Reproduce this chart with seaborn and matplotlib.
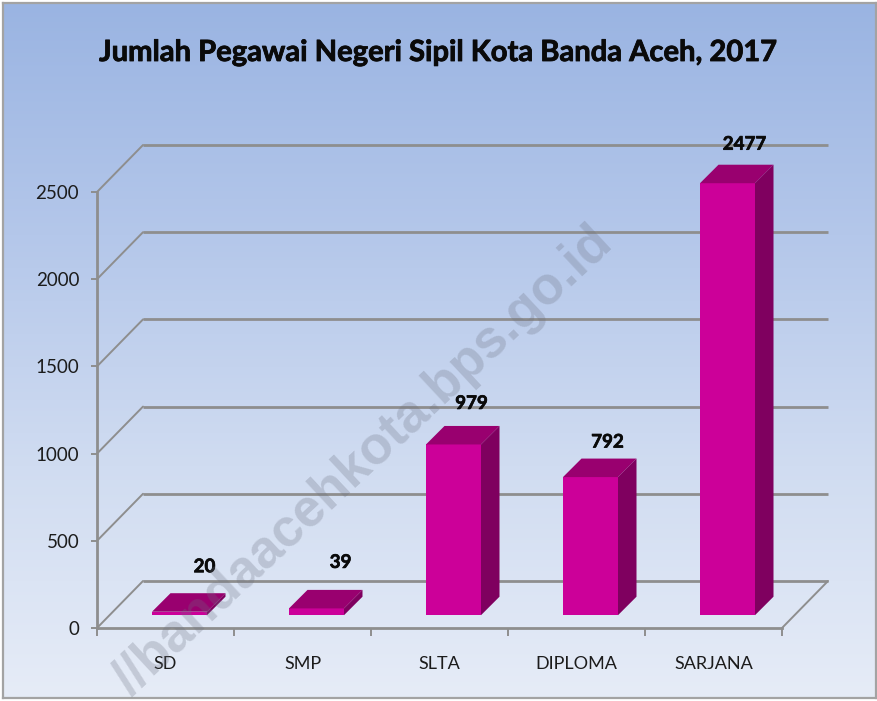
import numpy as np
import pandas as pd
import matplotlib
matplotlib.use("Agg")
import matplotlib.pyplot as plt
import matplotlib.patheffects as pe
from matplotlib.colors import LinearSegmentedColormap
from matplotlib.patches import Polygon
import seaborn as sns

categories = ["SD", "SMP", "SLTA", "DIPLOMA", "SARJANA"]
values = [20, 39, 979, 792, 2477]
y_ticks = [0, 500, 1000, 1500, 2000, 2500]
title = "Jumlah Pegawai Negeri Sipil Kota Banda Aceh, 2017"
watermark = "//bandaacehkota.bps.go.id"

# pixel offsets of the value labels from the bar's front top centre
label_dx = [25, 24, 18, 17, 17]
label_dy = [45, 46, 41, 35, 39]

W, H = 877, 701
sns.set_style("white")
plt.rcParams["font.family"] = ["Lato", "DejaVu Sans"]

fig = plt.figure(figsize=(W / 100, H / 100), dpi=100, facecolor="white")

# panel background with vertical gradient
bg = fig.add_axes([3 / W, (H - 698) / H, 873 / W, 695 / H])
cmap = LinearSegmentedColormap.from_list(
    "panel", ["#9ab4e2", "#b4c7ea", "#d0dcf1", "#e6ecf7"])
bg.imshow(np.linspace(0, 1, 256)[:, None], aspect="auto", cmap=cmap, zorder=0)
bg.set_xticks([]); bg.set_yticks([])
for s in bg.spines.values():
    s.set_color("#a3a3a3"); s.set_linewidth(1.6)

# plot area (front plane)
ax = fig.add_axes([97 / W, (H - 628) / H, 685 / W, 436 / H])
ax.patch.set_alpha(0)
px_x = 1 / 137          # data units per pixel, x
px_y = 2500 / 436       # data units per pixel, y

df = pd.DataFrame({"cat": categories, "val": values})
sns.barplot(data=df, x="cat", y="val", order=categories, color="#CC0099",
            saturation=1, width=55 / 137, ax=ax, zorder=4, linewidth=0)
ax.set_xlim(-0.5, 4.5)
ax.set_ylim(0, 2500)
ax.set_xlabel(""); ax.set_ylabel("")

grid = "#8e8e8e"
back_x, back_y = 46 * px_x, 47 * px_y
for v in y_ticks:
    ax.plot([-0.5, -0.5 + back_x], [v, v + back_y], color=grid, lw=1.4,
            clip_on=False, zorder=1, solid_capstyle="round")
    ax.plot([-0.5 + back_x, 4.5 + back_x], [v + back_y] * 2, color=grid, lw=2.0,
            clip_on=False, zorder=1, solid_capstyle="butt")
ax.plot([4.5, 4.5 + back_x], [0, back_y], color=grid, lw=1.4, clip_on=False, zorder=1)

# 3-D extrusion of the bars
shift_x, shift_y = 14 * px_x, 12.8 * px_y
depth_x, depth_y = 18.5 * px_x, 18.5 * px_y
for i, bar in enumerate(ax.patches):
    bar.set_clip_on(False)
    x0 = bar.get_x() + shift_x
    x1 = x0 + bar.get_width()
    y0 = shift_y
    y1 = shift_y + values[i]
    bar.set_x(x0); bar.set_y(y0)
    ax.add_patch(Polygon([(x0, y1), (x1, y1), (x1 + depth_x, y1 + depth_y),
                          (x0 + depth_x, y1 + depth_y)], closed=True,
                         fc="#99006f", ec="none", clip_on=False, zorder=4))
    ax.add_patch(Polygon([(x1, y0), (x1 + depth_x, y0 + depth_y),
                          (x1 + depth_x, y1 + depth_y), (x1, y1)], closed=True,
                         fc="#7f005f", ec="none", clip_on=False, zorder=4))
    t = ax.annotate(str(values[i]), ((x0 + x1) / 2, y1),
                    xytext=(label_dx[i] * 0.72, label_dy[i] * 0.72),
                    textcoords="offset points", ha="center", va="center",
                    fontsize=13.5, fontweight="bold", color="#0a0a0a", zorder=6,
                    annotation_clip=False)
    t.set_path_effects([pe.withStroke(linewidth=0.5, foreground="#0a0a0a")])

# axes
sns.despine(ax=ax, top=True, right=True)
for side in ("left", "bottom"):
    ax.spines[side].set_color(grid)
    ax.spines[side].set_linewidth(2.0)
    ax.spines[side].set_zorder(2)
ax.set_yticks(y_ticks)
ax.set_xticks(np.arange(-0.5, 5, 1), minor=True)
ax.set_xticks(range(5))
ax.set_xticklabels(categories)
ax.tick_params(axis="y", length=4.3, width=1.4, color=grid, pad=8.5,
               labelsize=13.5, labelcolor="#1c1c1c", left=True)
ax.tick_params(axis="x", which="major", length=0, pad=20,
               labelsize=13, labelcolor="#1c1c1c")
ax.tick_params(axis="x", which="minor", length=6, width=1.4, color=grid, bottom=True)

# title
tt = fig.text(438 / W, 1 - 53 / H, title, ha="center", va="center",
              fontsize=21, fontweight="bold", color="#0a0a0a")
tt.set_path_effects([pe.withStroke(linewidth=0.6, foreground="#0a0a0a")])

# watermark
wm = fig.text(615 / W, 1 - 246 / H, watermark, ha="right", va="baseline",
              rotation=43, rotation_mode="anchor", fontsize=38, fontweight="bold",
              family=["Liberation Sans", "DejaVu Sans"],
              color=(0.42, 0.44, 0.50, 0.27), zorder=20)
wm.set_clip_box(bg.bbox)
wm.set_clip_on(True)

fig.savefig("out.png", dpi=100, facecolor="white")
